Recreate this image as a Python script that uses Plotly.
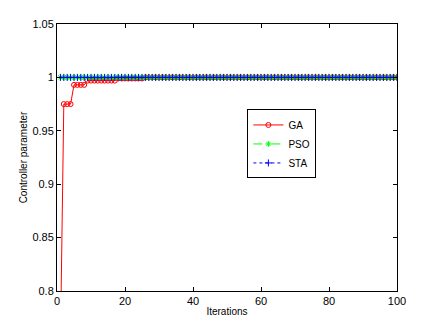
import plotly.graph_objects as go

iterations = list(range(1, 101))
ga = [0.75] + [0.975] * 3 + [0.993] * 4 + [0.997] * 9 + [0.999] * 8 + [1.0] * 75
pso = [1.0] * 100
sta = [1.0] * 100

x_ticks = [0, 20, 40, 60, 80, 100]
y_ticks = [0.8, 0.85, 0.9, 0.95, 1.0, 1.05]
y_tick_labels = ["0.8", "0.85", "0.9", "0.95", "1", "1.05"]

fig = go.Figure()
fig.add_trace(go.Scatter(x=iterations, y=ga, name="GA", mode="lines+markers",
                         line=dict(color="#ff0000", width=1),
                         marker=dict(symbol="circle-open", size=5, color="#ff0000", line=dict(width=1))))
fig.add_trace(go.Scatter(x=iterations, y=pso, name="PSO", mode="lines+markers",
                         line=dict(color="#00ff00", width=1, dash="dash"),
                         marker=dict(symbol="asterisk-open", size=5, color="#00ff00", line=dict(width=1, color="#00ff00"))))
fig.add_trace(go.Scatter(x=iterations, y=sta, name="STA", mode="lines+markers",
                         line=dict(color="#0000ff", width=1, dash="dot"),
                         marker=dict(symbol="cross-thin-open", size=5, color="#0000ff", line=dict(width=1, color="#0000ff"))))

axis_common = dict(showgrid=False, zeroline=False, showline=True, linecolor="black", linewidth=1,
                   mirror="allticks", ticks="inside", ticklen=4, tickcolor="black", automargin=False,
                   tickfont=dict(family="Liberation Sans, Arial", size=11, color="black"))

fig.update_layout(
    width=436, height=327,
    paper_bgcolor="white", plot_bgcolor="white",
    margin=dict(l=49, r=47, t=16, b=44),
    font=dict(family="Liberation Sans, Arial", size=11, color="black"),
    xaxis=dict(range=[0, 100], tickvals=x_ticks, ticktext=[str(v) for v in x_ticks],
               title=dict(text="Iterations", font=dict(size=10), standoff=1), **axis_common),
    yaxis=dict(range=[0.8, 1.05], tickvals=y_ticks, ticktext=y_tick_labels,
               title=dict(text="Controller parameter", font=dict(size=10), standoff=2), **axis_common),
    legend=dict(x=0.56, y=0.68, xanchor="left", yanchor="top", bgcolor="white",
                bordercolor="black", borderwidth=1, font=dict(size=10),
                itemwidth=30, tracegroupgap=0),
    showlegend=True,
)

fig.write_html("out.html")
